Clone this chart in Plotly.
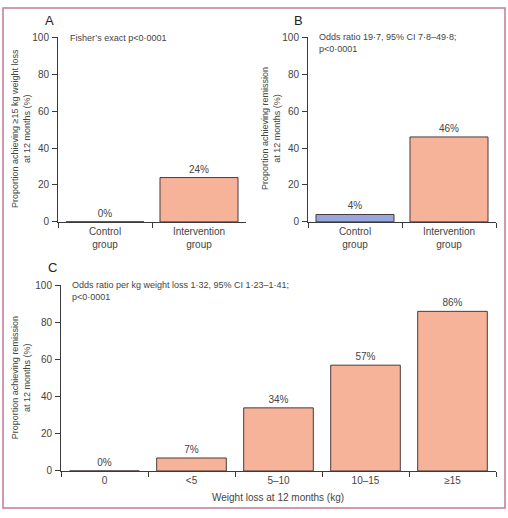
import plotly.graph_objects as go

W, H = 508, 518

# Data
groups = ["Control<br>group", "Intervention<br>group"]
a_values = [0, 24]
b_values = [4, 46]
c_categories = ["0", "<5", "5–10", "10–15", "≥15"]
c_values = [0, 7, 34, 57, 86]
y_ticks = [0, 20, 40, 60, 80, 100]

SALMON = "#f7b39a"
BLUE = "#97a6dc"
EDGE = "#4a3a3a"
AX = "#3a3a3a"
TXT = "#444444"
FONT = "Liberation Sans, Arial, sans-serif"

def px(x):
    return x / W

def py(y):
    return 1 - y / H

fig = go.Figure()

fig.add_trace(go.Bar(x=groups, y=a_values, text=[f"{v}%" for v in a_values],
                     textposition="outside", cliponaxis=False,
                     marker=dict(color=SALMON, line=dict(color=EDGE, width=1)),
                     width=0.83, xaxis="x", yaxis="y",
                     textfont=dict(size=10, color=TXT, family=FONT)))
fig.add_trace(go.Bar(x=groups, y=b_values, text=[f"{v}%" for v in b_values],
                     textposition="outside", cliponaxis=False,
                     marker=dict(color=[BLUE, SALMON], line=dict(color=EDGE, width=1)),
                     width=0.83, xaxis="x2", yaxis="y2",
                     textfont=dict(size=10, color=TXT, family=FONT)))
fig.add_trace(go.Bar(x=c_categories, y=c_values, text=[f"{v}%" for v in c_values],
                     textposition="outside", cliponaxis=False,
                     marker=dict(color=SALMON, line=dict(color=EDGE, width=1)),
                     width=0.8, xaxis="x3", yaxis="y3",
                     textfont=dict(size=10, color=TXT, family=FONT)))

def xax(domain, anchor, n):
    return dict(domain=domain, anchor=anchor, range=[-0.5, n - 0.5],
                showline=True, linecolor=AX, linewidth=1, ticks="outside",
                tickson="boundaries", ticklen=5, tickcolor=AX, showgrid=False,
                tickfont=dict(size=10, color=TXT, family=FONT), fixedrange=True,
                zeroline=False)

def yax(domain, anchor):
    return dict(domain=domain, anchor=anchor, range=[0, 100], tickvals=y_ticks,
                showline=True, linecolor=AX, linewidth=1, ticks="outside",
                ticklen=5, tickcolor=AX, showgrid=False, zeroline=False,
                tickfont=dict(size=10, color=TXT, family=FONT), ticklabelstandoff=1,
                fixedrange=True)

yA = [py(221), py(32)]
yC = [py(476), py(286)]

fig.update_layout(
    width=W, height=H,
    margin=dict(l=0, r=0, t=0, b=0),
    paper_bgcolor="white", plot_bgcolor="white",
    showlegend=False, bargap=0.17,
    font=dict(family=FONT, color=TXT),
    xaxis=xax([px(58), px(246)], "y", 2),
    yaxis=yax(yA, "x"),
    xaxis2=xax([px(308), px(496)], "y2", 2),
    yaxis2=yax(yA, "x2"),
    xaxis3=xax([px(61), px(496)], "y3", 5),
    yaxis3=yax(yC, "x3"),
)

ann = []
def label(x, y, text, size=9, **kw):
    d = dict(x=px(x), y=py(y), xref="paper", yref="paper", text=text,
             showarrow=False, font=dict(size=size, color=TXT, family=FONT),
             xanchor="left", yanchor="middle")
    d.update(kw)
    ann.append(d)

label(43, 15, "A", font=dict(size=13, color="#222", family=FONT))
label(292, 15, "B", font=dict(size=13, color="#222", family=FONT))
label(46, 268, "C", font=dict(size=13, color="#222", family=FONT))

label(68, 33, "Fisher’s exact p<0·0001")
label(317, 38, "Odds ratio 19·7, 95% CI 7·8–49·8;<br>p<0·0001", align="left")
label(70, 292, "Odds ratio per kg weight loss 1·32, 95% CI 1·23–1·41;<br>p<0·0001", align="left")

def ytitle(x, yc, text):
    ann.append(dict(x=px(x), y=py(yc), xref="paper", yref="paper", text=text,
                    textangle=-90, showarrow=False, xanchor="center", yanchor="middle",
                    font=dict(size=9, color=TXT, family=FONT), align="center"))

ytitle(21, 126, "Proportion achieving ≥15 kg weight loss<br>at 12 months (%)")
ytitle(271, 126, "Proportion achieving remission<br>at 12 months (%)")
ytitle(21, 381, "Proportion achieving remission<br>at 12 months (%)")

ann.append(dict(x=px(278), y=py(503), xref="paper", yref="paper",
                text="Weight loss at 12 months (kg)", showarrow=False,
                xanchor="center", yanchor="middle",
                font=dict(size=10, color=TXT, family=FONT)))

fig.update_layout(annotations=ann)

fig.add_shape(type="rect", xref="paper", yref="paper",
              x0=px(3), x1=px(505), y0=py(514), y1=py(2),
              line=dict(color="#c47a98", width=1.5), fillcolor="rgba(0,0,0,0)")

fig.write_html("out.html", config={"displayModeBar": False},
               post_script="document.body.style.margin='0';document.body.style.overflow='hidden';")
